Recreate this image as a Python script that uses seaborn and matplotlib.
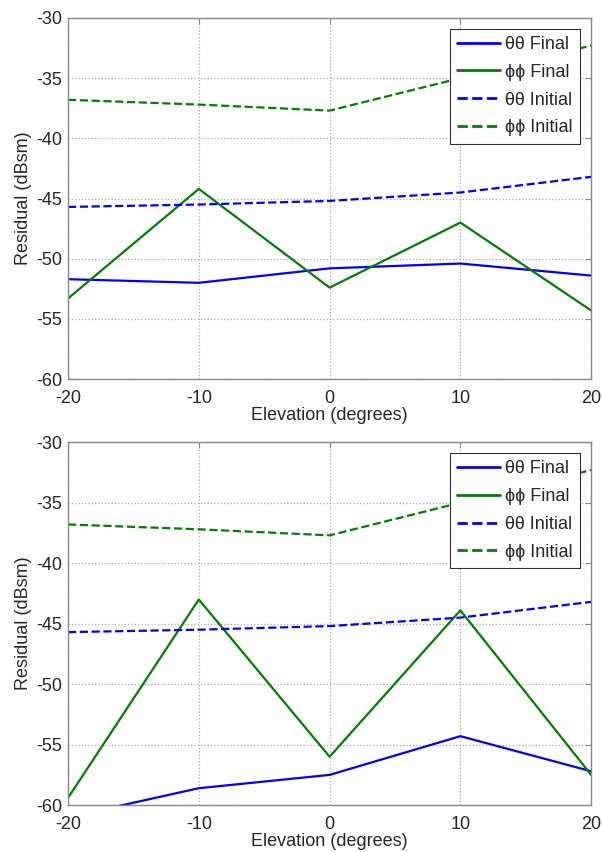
import numpy as np
import pandas as pd
import matplotlib
matplotlib.use("Agg")
import matplotlib.pyplot as plt
import seaborn as sns

# --- data ---
elevation = [-20, -10, 0, 10, 20]

# top panel
top_tt_final = [-51.7, -52.0, -50.8, -50.4, -51.4]
top_pp_final = [-53.3, -44.2, -52.4, -47.0, -54.3]

# bottom panel
bot_tt_final = [-61.0, -58.6, -57.5, -54.3, -57.2]
bot_pp_final = [-59.4, -43.0, -56.0, -43.9, -57.5]

# initial residuals (same in both panels)
tt_initial = [-45.7, -45.5, -45.2, -44.5, -43.2]
pp_initial = [-36.8, -37.2, -37.7, -35.0, -32.3]

labels = ["θθ Final", "ϕϕ Final", "θθ Initial", "ϕϕ Initial"]
colors = ["#0000ff", "#008000", "#0000ff", "#008000"]
styles = ["-", "-", "--", "--"]

sns.set_style("white")
plt.rcParams['font.family'] = ['Liberation Sans', 'DejaVu Sans']
plt.rcParams['font.size'] = 13
plt.rcParams['axes.unicode_minus'] = False

fig = plt.figure(figsize=(6.02, 8.52), dpi=100)
ax_top = fig.add_axes([0.113, 0.555, 0.869, 0.424])
ax_bot = fig.add_axes([0.113, 0.055, 0.869, 0.426])


def draw_panel(ax, tt_final, pp_final):
    series = [tt_final, pp_final, tt_initial, pp_initial]
    for vals, lab, col, ls in zip(series, labels, colors, styles):
        sns.lineplot(x=elevation, y=vals, ax=ax, color=col, linestyle=ls,
                     linewidth=1.6, label=lab)
    ax.set_xlim(-20, 20)
    ax.set_ylim(-60, -30)
    ax.set_xticks([-20, -10, 0, 10, 20])
    ax.set_yticks([-60, -55, -50, -45, -40, -35, -30])
    ax.grid(True, linestyle=':', color='#aaaaaa', linewidth=0.9)
    ax.tick_params(direction='in', length=4, color='#888888',
                   top=True, right=True, labelsize=13)
    ax.tick_params(axis='x', pad=8)
    ax.tick_params(axis='y', pad=4)
    for sp in ax.spines.values():
        sp.set_color('#888888')
        sp.set_linewidth(1.0)
    ax.set_xlabel("Elevation (degrees)", fontsize=13, labelpad=0)
    ax.set_ylabel("Residual (dBsm)", fontsize=13, labelpad=3)
    leg = ax.legend(loc='upper right', fontsize=13, fancybox=False,
                    framealpha=1, edgecolor='#333333', handlelength=2.4,
                    borderaxespad=0.6, labelspacing=0.6, handletextpad=0.3,
                    borderpad=0.4)
    leg.get_frame().set_linewidth(0.8)
    for h in leg.get_lines():
        h.set_linewidth(2.0)


draw_panel(ax_top, top_tt_final, top_pp_final)
draw_panel(ax_bot, bot_tt_final, bot_pp_final)

fig.savefig("out.png", dpi=100)
